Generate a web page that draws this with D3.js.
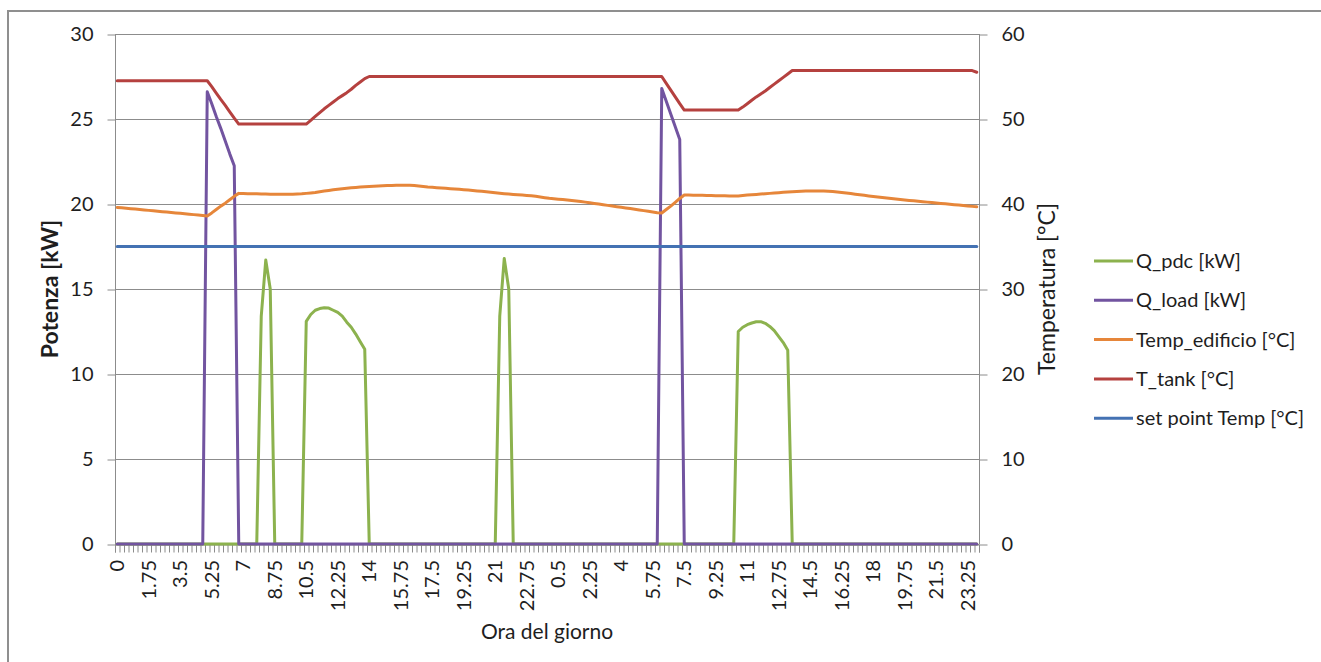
<!DOCTYPE html>
<html>
<head>
<meta charset="utf-8">
<script src="https://cdn.jsdelivr.net/npm/d3@7"></script>
<style>
  html, body { margin: 0; padding: 0; background: #fff; }
  svg { display: block; font-family: Lato, "Open Sans", sans-serif; }
</style>
</head>
<body>
<svg id="chart" width="1321" height="662"></svg>
<script>
// ---------------- DATA ----------------
// Quarter-hour categories over two days (192 points); a label every 7 categories.
const tickLabels = ["0","1.75","3.5","5.25","7","8.75","10.5","12.25","14","15.75","17.5","19.25","21","22.75",
  "0.5","2.25","4","5.75","7.5","9.25","11","12.75","14.5","16.25","18","19.75","21.5","23.25"];
const tickStep = 7;
const nCategories = 192;

const Q_pdc = [
  0,0,0,0,0,0,0,0,0,0,0,0,0,0,0,0,
  0,0,0,0,0,0,0,0,0,0,0,0,0,0,0,0,
  13.4,16.7,15.0,0,0,0,0,0,0,0,13.1,13.5,13.75,13.85,13.9,13.88,
  13.75,13.62,13.4,13.05,12.75,12.35,11.9,11.45,0,0,0,0,0,0,0,0,
  0,0,0,0,0,0,0,0,0,0,0,0,0,0,0,0,
  0,0,0,0,0,13.4,16.8,15.0,0,0,0,0,0,0,0,0,
  0,0,0,0,0,0,0,0,0,0,0,0,0,0,0,0,
  0,0,0,0,0,0,0,0,0,0,0,0,0,0,0,0,
  0,0,0,0,0,0,0,0,0,0,12.5,12.75,12.9,13.0,13.07,13.08,
  12.98,12.8,12.55,12.2,11.85,11.4,0,0,0,0,0,0,0,0,0,0,
  0,0,0,0,0,0,0,0,0,0,0,0,0,0,0,0,
  0,0,0,0,0,0,0,0,0,0,0,0,0,0,0,0
];
const Q_load = [
  0,0,0,0,0,0,0,0,0,0,0,0,0,0,0,0,
  0,0,0,0,26.6,25.9,25.15,24.45,23.7,22.95,22.25,0,0,0,0,0,
  0,0,0,0,0,0,0,0,0,0,0,0,0,0,0,0,
  0,0,0,0,0,0,0,0,0,0,0,0,0,0,0,0,
  0,0,0,0,0,0,0,0,0,0,0,0,0,0,0,0,
  0,0,0,0,0,0,0,0,0,0,0,0,0,0,0,0,
  0,0,0,0,0,0,0,0,0,0,0,0,0,0,0,0,
  0,0,0,0,0,0,0,0,0,26.8,26.05,25.3,24.55,23.8,0,0,
  0,0,0,0,0,0,0,0,0,0,0,0,0,0,0,0,
  0,0,0,0,0,0,0,0,0,0,0,0,0,0,0,0,
  0,0,0,0,0,0,0,0,0,0,0,0,0,0,0,0,
  0,0,0,0,0,0,0,0,0,0,0,0,0,0,0,0
];
const Temp_edificio = [
  39.6,39.55,39.5,39.45,39.4,39.35,39.3,39.25,39.2,39.15,39.1,39.05,39.0,38.95,38.9,38.85,
  38.8,38.75,38.7,38.65,38.6,38.95,39.35,39.75,40.1,40.5,40.9,41.25,41.24,41.22,41.2,41.2,
  41.18,41.17,41.16,41.15,41.15,41.15,41.15,41.15,41.17,41.2,41.25,41.3,41.35,41.45,41.52,41.6,
  41.67,41.74,41.8,41.85,41.9,41.95,42.0,42.04,42.07,42.1,42.12,42.15,42.17,42.18,42.2,42.2,
  42.2,42.2,42.18,42.12,42.06,42.0,41.96,41.92,41.88,41.84,41.8,41.77,41.73,41.69,41.65,41.6,
  41.54,41.49,41.43,41.37,41.31,41.26,41.22,41.18,41.13,41.09,41.05,41.0,40.96,40.9,40.82,40.74,
  40.67,40.62,40.57,40.52,40.46,40.4,40.34,40.29,40.22,40.14,40.07,40.0,39.92,39.84,39.76,39.68,
  39.61,39.54,39.46,39.38,39.3,39.22,39.14,39.06,38.98,38.94,39.35,39.75,40.2,40.65,41.06,41.05,
  41.04,41.03,41.02,41.0,41.0,40.98,40.97,40.96,40.95,40.95,40.95,41.0,41.05,41.09,41.13,41.17,
  41.21,41.25,41.29,41.33,41.37,41.41,41.44,41.47,41.5,41.52,41.53,41.54,41.54,41.53,41.51,41.47,
  41.42,41.36,41.3,41.23,41.16,41.09,41.02,40.95,40.88,40.82,40.76,40.7,40.64,40.58,40.52,40.47,
  40.42,40.37,40.32,40.27,40.22,40.17,40.12,40.07,40.02,39.97,39.92,39.87,39.82,39.77,39.72,39.67
];
const T_tank = [
  54.5,54.5,54.5,54.5,54.5,54.5,54.5,54.5,54.5,54.5,54.5,54.5,54.5,54.5,54.5,54.5,
  54.5,54.5,54.5,54.5,54.5,53.8,53.05,52.3,51.6,50.85,50.1,49.4,49.4,49.4,49.4,49.4,
  49.4,49.4,49.4,49.4,49.4,49.4,49.4,49.4,49.4,49.4,49.4,49.85,50.3,50.75,51.2,51.6,
  52.0,52.4,52.75,53.1,53.5,53.95,54.35,54.75,55.0,55.0,55.0,55.0,55.0,55.0,55.0,55.0,
  55.0,55.0,55.0,55.0,55.0,55.0,55.0,55.0,55.0,55.0,55.0,55.0,55.0,55.0,55.0,55.0,
  55.0,55.0,55.0,55.0,55.0,55.0,55.0,55.0,55.0,55.0,55.0,55.0,55.0,55.0,55.0,55.0,
  55.0,55.0,55.0,55.0,55.0,55.0,55.0,55.0,55.0,55.0,55.0,55.0,55.0,55.0,55.0,55.0,
  55.0,55.0,55.0,55.0,55.0,55.0,55.0,55.0,55.0,55.0,54.2,53.4,52.6,51.8,51.05,51.05,
  51.05,51.05,51.05,51.05,51.05,51.05,51.05,51.05,51.05,51.05,51.05,51.4,51.8,52.2,52.6,52.95,
  53.3,53.7,54.1,54.5,54.9,55.3,55.7,55.7,55.7,55.7,55.7,55.7,55.7,55.7,55.7,55.7,
  55.7,55.7,55.7,55.7,55.7,55.7,55.7,55.7,55.7,55.7,55.7,55.7,55.7,55.7,55.7,55.7,
  55.7,55.7,55.7,55.7,55.7,55.7,55.7,55.7,55.7,55.7,55.7,55.7,55.7,55.7,55.7,55.5
];
const setPointTemp = [
  35,35,35,35,35,35,35,35,35,35,35,35,35,35,35,35,
  35,35,35,35,35,35,35,35,35,35,35,35,35,35,35,35,
  35,35,35,35,35,35,35,35,35,35,35,35,35,35,35,35,
  35,35,35,35,35,35,35,35,35,35,35,35,35,35,35,35,
  35,35,35,35,35,35,35,35,35,35,35,35,35,35,35,35,
  35,35,35,35,35,35,35,35,35,35,35,35,35,35,35,35,
  35,35,35,35,35,35,35,35,35,35,35,35,35,35,35,35,
  35,35,35,35,35,35,35,35,35,35,35,35,35,35,35,35,
  35,35,35,35,35,35,35,35,35,35,35,35,35,35,35,35,
  35,35,35,35,35,35,35,35,35,35,35,35,35,35,35,35,
  35,35,35,35,35,35,35,35,35,35,35,35,35,35,35,35,
  35,35,35,35,35,35,35,35,35,35,35,35,35,35,35,35
];
const leftTicks = [0,5,10,15,20,25,30];
const rightTicks = [0,10,20,30,40,50,60];

const seriesNames = ["Q_pdc [kW]","Q_load [kW]","Temp_edificio [°C]","T_tank [°C]","set point Temp [°C]"];
const seriesColors = ["#8cb24e","#7254a0","#e6863a","#b5413f","#4472b3"];

// ---------------- CHART ----------------
const svg = d3.select("#chart");
const W = 1321, H = 662;
const m = {left: 115, right: 979, top: 34, bottom: 544};
const gridColor = "#8c8c8c";
const textColor = "#1e1e1e";

svg.append("rect").attr("width", W).attr("height", H).attr("fill", "#fff");
svg.append("rect").attr("x", 8).attr("y", 11).attr("width", 1330).attr("height", 680)
  .attr("fill", "none").attr("stroke", "#8f8f8f").attr("stroke-width", 2);

const idx = d3.range(nCategories);
const x = d3.scaleBand().domain(idx).range([m.left, m.right]).paddingInner(0).paddingOuter(0);
const xEdge = d3.scaleLinear().domain([0, nCategories]).range([m.left, m.right]);
const yL = d3.scaleLinear().domain([0, 30]).range([m.bottom, m.top]);
const yR = d3.scaleLinear().domain([0, 60]).range([m.bottom, m.top]);
const cx = i => x(i) + x.bandwidth() / 2;

// gridlines
svg.append("g").selectAll("line").data(leftTicks).join("line")
  .attr("x1", m.left).attr("x2", m.right)
  .attr("y1", d => Math.round(yL(d)) + 0.5).attr("y2", d => Math.round(yL(d)) + 0.5)
  .attr("stroke", gridColor).attr("stroke-width", 1);

// left axis
const gL = svg.append("g").attr("transform", `translate(${m.left + 0.5},0)`)
  .call(d3.axisLeft(yL).tickValues(leftTicks).tickSize(8).tickPadding(14).tickFormat(d3.format("d")));
gL.select(".domain").attr("stroke", gridColor).attr("d", `M0,${m.top}V${m.bottom}`);
gL.selectAll(".tick line").attr("stroke", gridColor).attr("transform", "translate(0,0.5)");
gL.selectAll(".tick text").attr("font-size", 20).attr("fill", textColor).attr("font-family", "Lato");

// right axis
const gR = svg.append("g").attr("transform", `translate(${m.right + 0.5},0)`)
  .call(d3.axisRight(yR).tickValues(rightTicks).tickSize(8).tickPadding(14).tickFormat(d3.format("d")));
gR.select(".domain").attr("stroke", gridColor).attr("d", `M0,${m.top}V${m.bottom}`);
gR.selectAll(".tick line").attr("stroke", gridColor).attr("transform", "translate(0,0.5)");
gR.selectAll(".tick text").attr("font-size", 20).attr("fill", textColor).attr("font-family", "Lato");

// bottom axis: minor ticks at every category boundary
const gB = svg.append("g").attr("transform", `translate(0,${m.bottom + 0.5})`)
  .call(d3.axisBottom(xEdge).tickValues(d3.range(nCategories + 1)).tickSize(8).tickFormat(""));
gB.select(".domain").attr("stroke", gridColor);
gB.selectAll(".tick line").attr("stroke", gridColor).attr("stroke-width", 1);

// category labels, rotated
svg.append("g").selectAll("text").data(tickLabels).join("text")
  .attr("transform", (d, k) => `translate(${cx(k * tickStep)},${m.bottom + 16}) rotate(-90)`)
  .attr("text-anchor", "end").attr("dy", "0.35em")
  .attr("font-size", 20).attr("fill", textColor)
  .text(d => d);

// series
const line = (scale) => d3.line().x((d, i) => cx(i)).y(d => scale(d));
const seriesData = [
  {vals: Q_pdc, scale: yL},
  {vals: Q_load, scale: yL},
  {vals: Temp_edificio, scale: yR},
  {vals: T_tank, scale: yR},
  {vals: setPointTemp, scale: yR}
];
const gS = svg.append("g");
seriesData.forEach((s, k) => {
  gS.append("path").datum(s.vals)
    .attr("d", line(s.scale))
    .attr("fill", "none").attr("stroke", seriesColors[k])
    .attr("stroke-width", 3).attr("stroke-linejoin", "round").attr("stroke-linecap", "round");
});

// axis titles
svg.append("text").attr("transform", `translate(58,${(m.top + m.bottom) / 2}) rotate(-90)`)
  .attr("text-anchor", "middle").attr("font-size", 23).attr("font-weight", "bold")
  .attr("fill", textColor).text("Potenza [kW]");
svg.append("text").attr("transform", `translate(1055,${(m.top + m.bottom) / 2}) rotate(-90)`)
  .attr("text-anchor", "middle").attr("font-size", 23)
  .attr("fill", textColor).text("Temperatura [°C]");
svg.append("text").attr("x", 547).attr("y", 639)
  .attr("text-anchor", "middle").attr("font-size", 21)
  .attr("fill", textColor).text("Ora del giorno");

// legend
const lg = svg.append("g");
seriesNames.forEach((name, k) => {
  const ly = 261 + k * 39.3;
  lg.append("line").attr("x1", 1094).attr("x2", 1133).attr("y1", ly).attr("y2", ly)
    .attr("stroke", seriesColors[k]).attr("stroke-width", 3);
  lg.append("text").attr("x", 1136).attr("y", ly).attr("dy", "0.35em")
    .attr("font-size", 20).attr("fill", textColor).text(name);
});
</script>
</body>
</html>
